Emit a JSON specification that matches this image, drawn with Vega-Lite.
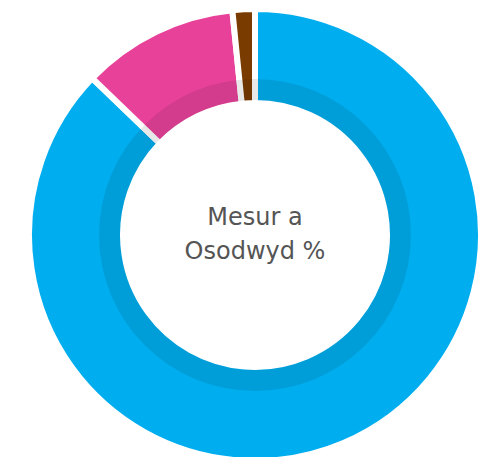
{
  "$schema": "https://vega.github.io/schema/vega-lite/v6.json",
  "width": 450,
  "height": 444,
  "autosize": "none",
  "padding": {"left": 30, "top": 13, "right": 0, "bottom": 0},
  "background": "white",
  "view": {"stroke": null},
  "layer": [
    {
      "data": {"values": [
        {"category": "A", "value": 87.2, "order": 1},
        {"category": "B", "value": 11.2, "order": 2},
        {"category": "C", "value": 1.6, "order": 3}
      ]},
      "mark": {"type": "arc", "radius": 226, "radius2": 132, "stroke": "white", "strokeWidth": 6},
      "encoding": {
        "theta": {"field": "value", "type": "quantitative", "stack": true},
        "order": {"field": "order", "type": "quantitative"},
        "color": {"field": "category", "type": "nominal", "legend": null,
          "scale": {"domain": ["A", "B", "C"], "range": ["#00AEEF", "#E8419A", "#7A3B00"]}}
      }
    },
    {
      "data": {"values": [{"band": "inner"}]},
      "mark": {"type": "arc", "radius": 156, "radius2": 135, "fill": "black", "fillOpacity": 0.09, "theta": 0, "theta2": 6.2832},
      "encoding": {}
    },
    {
      "data": {"values": [{"label": "Mesur a Osodwyd %"}]},
      "mark": {"type": "text", "text": ["Mesur a", "Osodwyd %"], "font": "DejaVu Sans", "fontSize": 24, "lineHeight": 34, "dy": -17, "color": "#555555", "align": "center", "baseline": "middle"},
      "encoding": {}
    }
  ]
}
